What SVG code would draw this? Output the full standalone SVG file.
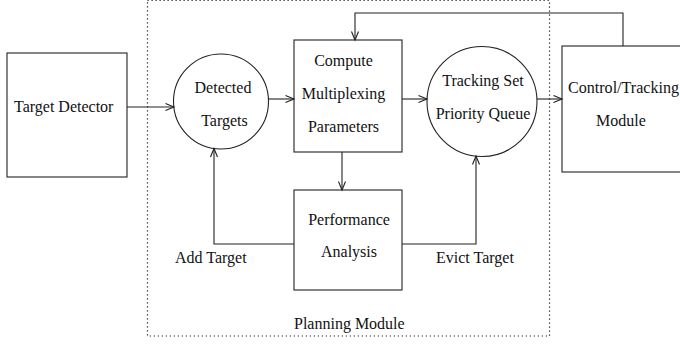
<svg xmlns="http://www.w3.org/2000/svg" width="680" height="345" viewBox="0 0 680 345">
<style>
.n{fill:#fff;stroke:#222;stroke-width:1.1}
.c{fill:none;stroke:#222;stroke-width:1.1}
.t{font-family:"Liberation Serif","Times New Roman",serif;font-size:16px;fill:#111}
.dot{fill:none;stroke:#222;stroke-width:1.2;stroke-dasharray:1.2 2.8}
</style>
<defs>
<marker id="a" markerUnits="userSpaceOnUse" markerWidth="12" markerHeight="10" refX="9" refY="4" orient="auto">
<path d="M0.5,0.5 L9,4 L0.5,7.5" fill="none" stroke="#222" stroke-width="1.1"/>
</marker>
</defs>
<rect class="dot" x="147.5" y="0.5" width="402" height="335.5"/>
<g id="target-detector"><rect class="n" x="7" y="53" width="120" height="124"/><text class="t" x="14" y="112">Target Detector</text></g>
<g id="detected-targets"><circle class="n" cx="221" cy="101.5" r="47.5"/><text class="t" x="223" y="93" text-anchor="middle">Detected</text><text class="t" x="224.5" y="126" text-anchor="middle">Targets</text></g>
<g id="compute"><rect class="n" x="294" y="40" width="108" height="112"/><text class="t" x="343.5" y="66" text-anchor="middle">Compute</text><text class="t" x="343.5" y="99" text-anchor="middle">Multiplexing</text><text class="t" x="343.5" y="131.5" text-anchor="middle">Parameters</text></g>
<g id="tracking-set"><circle class="n" cx="482" cy="101.5" r="55"/><text class="t" x="483" y="86" text-anchor="middle">Tracking Set</text><text class="t" x="483" y="119" text-anchor="middle">Priority Queue</text></g>
<g id="control"><rect class="n" x="562" y="46" width="130" height="126"/><text class="t" x="568" y="93" textLength="111" lengthAdjust="spacingAndGlyphs">Control/Tracking</text><text class="t" x="596" y="125.5">Module</text></g>
<g id="performance"><rect class="n" x="294" y="190" width="108" height="100"/><text class="t" x="349" y="225" text-anchor="middle">Performance</text><text class="t" x="349" y="257" text-anchor="middle">Analysis</text></g>
<g id="labels"><text class="t" x="175" y="263">Add Target</text><text class="t" x="436" y="263">Evict Target</text><text class="t" x="294" y="329">Planning Module</text></g>
<g id="connectors">
<path class="c" d="M127,107 H174" marker-end="url(#a)"/>
<path class="c" d="M268.5,99 H294" marker-end="url(#a)"/>
<path class="c" d="M402,99 H427" marker-end="url(#a)"/>
<path class="c" d="M537,99 H562" marker-end="url(#a)"/>
<path class="c" d="M623,46 V13 H355 V40" marker-end="url(#a)"/>
<path class="c" d="M342,152 V190" marker-end="url(#a)"/>
<path class="c" d="M294,244 H214 V148.5" marker-end="url(#a)"/>
<path class="c" d="M402,244 H476 V156" marker-end="url(#a)"/>
</g>
</svg>
